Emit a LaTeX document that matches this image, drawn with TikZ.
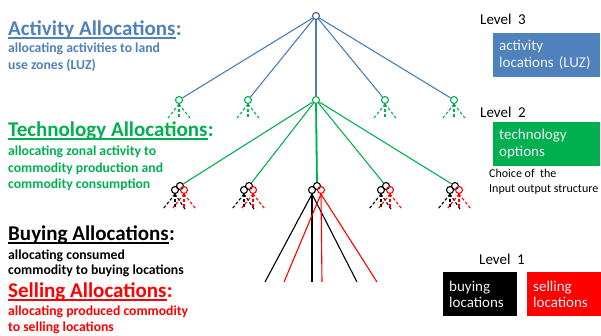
\documentclass[tikz,border=0pt]{standalone}
\usepackage{fontspec}
\setmainfont{Carlito}
\definecolor{cblue}{HTML}{4F81BD}
\definecolor{lblue}{HTML}{4A7EBB}
\definecolor{cgreen}{HTML}{00B050}
\definecolor{cred}{HTML}{FF0000}
\definecolor{cnode}{HTML}{3F5B86}
\definecolor{boxtext}{HTML}{F0F2F6}
\tikzset{
  head/.style={anchor=base west, inner sep=0pt, font=\fontsize{21}{24}\selectfont\bfseries},
  sub/.style={anchor=base west, inner sep=0pt, font=\fontsize{13.7}{16}\selectfont\bfseries},
  lvl/.style={anchor=base west, inner sep=0pt, font=\fontsize{15}{18}\selectfont},
  note/.style={anchor=base west, inner sep=0pt, font=\fontsize{12}{14}\selectfont},
  box/.style={anchor=north west, inner xsep=6pt, inner ysep=0pt, align=left, text=boxtext,
     font=\fontsize{15}{16.5}\selectfont, minimum height=44pt},
  knot/.style={circle, draw, inner sep=0pt, minimum size=7pt, line width=1.1pt},
  tl/.style={line width=1.1pt},
  dl/.style={line width=1.1pt, dash pattern=on 3pt off 2pt},
}
\begin{document}
\begin{tikzpicture}[x=1pt,y=-1pt]
\useasboundingbox (0,0) rectangle (601,336);
% headings
\node[head, text=cblue] (h1) at (8,35.5) {Activity Allocations};
\node[head, text=cblue] (h1c) at (h1.base east) {:};
\draw[cblue, line width=1.8pt] ([yshift=-2.6pt]h1.base west) -- ([yshift=-2.6pt]h1.base east);
\node[sub, text=cblue] (s1a) at (8,53) {allocating activities to land};
\node[sub, text=cblue] (s1b) at (8,70) {use zones (LUZ)};

\node[head, text=cgreen] (h2) at (8,136.5) {Technology Allocations};
\node[head, text=cgreen] (h2c) at (h2.base east) {:};
\draw[cgreen, line width=1.8pt] ([yshift=-2.6pt]h2.base west) -- ([yshift=-2.6pt]h2.base east);
\node[sub, text=cgreen] (s2a) at (8,156) {allocating zonal activity to};
\node[sub, text=cgreen] (s2b) at (8,172.5) {commodity production and};
\node[sub, text=cgreen] (s2c) at (8,189) {commodity consumption};

\node[head, text=black] (h3) at (8,240.5) {Buying Allocations};
\node[head, text=black] (h3c) at (h3.base east) {:};
\draw[black, line width=1.8pt] ([yshift=-2.6pt]h3.base west) -- ([yshift=-2.6pt]h3.base east);
\node[sub, text=black] (s3a) at (8,259) {allocating consumed};
\node[sub, text=black] (s3b) at (8,274) {commodity to buying locations};

\node[head, text=cred] (h4) at (8,297) {Selling Allocations};
\node[head, text=cred] (h4c) at (h4.base east) {:};
\draw[cred, line width=1.8pt] ([yshift=-2.6pt]h4.base west) -- ([yshift=-2.6pt]h4.base east);
\node[sub, text=cred] (s4a) at (8,315) {allocating produced commodity};
\node[sub, text=cred] (s4b) at (8,331) {to selling locations};

% right side
\node[lvl] (l3) at (480,25) {Level~~3};
\node[box, fill=cblue, minimum width=107pt, text width=95pt] (b3) at (493,32.5) {activity\\locations (LUZ)};
\node[lvl] (l2) at (480,118) {Level~~2};
\node[box, fill=cgreen, minimum width=107pt, text width=95pt] (b2) at (493,122) {technology\\options};
\node[note] (n1) at (489,178) {Choice of~~the};
\node[note] (n2) at (489,193) {Input output structure};
\node[lvl] (l1) at (479,264) {Level~~1};
\node[box, fill=black, minimum width=74pt, text width=62pt] (bb) at (443,272) {buying\\locations};
\node[box, fill=cred, minimum width=74pt, text width=62pt] (br) at (527,272) {selling\\locations};

% tree
\node[knot, draw=cnode] (top) at (316,16) {};
\foreach \x [count=\i] in {179,248,316,385,454}{
  \node[knot, draw=cgreen] (g\i) at (\x,100) {};
  \draw[tl, lblue] (top) -- (g\i);
  \node[knot, draw=black] (k\i) at (\x+1,186) {};
  \node[knot, draw=black] (b\i) at (\x-4,190) {};
  \node[knot, draw=cred] (r\i) at (\x+5,190) {};
}
\draw[line width=1.8pt, lblue] (top) -- (g3);
\foreach \i in {1,2,4,5}{
  \draw[dl, cgreen] (g\i.south) -- ++(-11,14);
  \draw[dl, cgreen] (g\i.south) -- ++(0,14);
  \draw[dl, cgreen] (g\i.south) -- ++(11,14);
  \draw[dl, black] (b\i.south) -- ++(-12,15);
  \draw[dl, black] (b\i.south) -- ++(0,15);
  \draw[dl, black] (b\i.south) -- ++(10,15);
  \draw[dl, cred] (r\i.south) -- ++(-12,15);
  \draw[dl, cred] (r\i.south) -- ++(0,15);
  \draw[dl, cred] (r\i.south) -- ++(12,15);
}
\foreach \i in {1,...,5}{
  \draw[tl, cgreen] (g3) -- (k\i);
}
\draw[line width=1.8pt, cgreen] (g3) -- (k3);
\coordinate (e1) at (265,282);
\coordinate (e2) at (312,282);
\coordinate (e3) at (357,282);
\coordinate (e4) at (284,282);
\coordinate (e5) at (322,282);
\coordinate (e6) at (377,282);
\draw[tl, black] (b3.south) -- (e1);
\draw[tl, black] (b3.south) -- (e2);
\draw[tl, black] (b3.south) -- (e3);
\draw[tl, cred] (r3.south) -- (e4);
\draw[tl, cred] (r3.south) -- (e5);
\draw[tl, cred] (r3.south) -- (e6);
\end{tikzpicture}
\end{document}
